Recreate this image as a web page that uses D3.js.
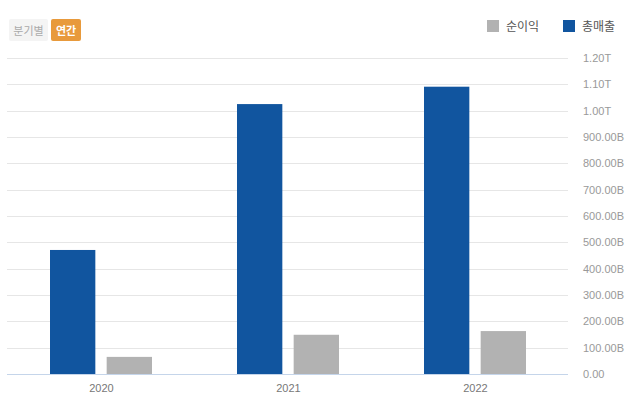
<!DOCTYPE html>
<html>
<head>
<meta charset="utf-8">
<script src="https://cdn.jsdelivr.net/npm/d3@7"></script>
<style>
body{margin:0;background:#fff;font-family:"Noto Sans CJK KR","Noto Sans",Arial,sans-serif;}
</style>
</head>
<body>
<div id="graph"></div>
<script>
var years = ["2020", "2021", "2022"];
var seriesNames = ["총매출", "순이익"];
var revenue = [471e9, 1025e9, 1091e9];
var netIncome = [65e9, 149e9, 163e9];
var yTicks = [0, 100e9, 200e9, 300e9, 400e9, 500e9, 600e9, 700e9, 800e9, 900e9, 1000e9, 1100e9, 1200e9];
var colors = {"총매출": "#11559f", "순이익": "#b2b2b2"};

var svg = d3.select('#graph').append("svg").attr("width", 644).attr("height", 411);

var x = d3.scaleBand().domain(years).range([7, 568]);
var inner = d3.scaleBand().domain(seriesNames).range([43, 145]).paddingInner(0.2);
var y = d3.scaleLinear().domain([0, 1200e9]).range([374, 58]);

function fmt(v){
  if (v === 0) return "0.00";
  if (v >= 1e12) return (v / 1e12).toFixed(2) + "T";
  return (v / 1e9).toFixed(2) + "B";
}

// grid
svg.append("g").selectAll("line")
  .data(yTicks.slice(1))
  .enter().append("line")
  .attr("x1", 7).attr("x2", 568)
  .attr("y1", function(d){ return Math.round(y(d)) + 0.5; })
  .attr("y2", function(d){ return Math.round(y(d)) + 0.5; })
  .attr("stroke", "#e6e6e6");

// y labels
svg.append("g").selectAll("text")
  .data(yTicks)
  .enter().append("text")
  .attr("x", 583)
  .attr("y", function(d){ return y(d) + 4; })
  .attr("font-size", 11)
  .attr("font-family", "Arial, 'Liberation Sans', sans-serif")
  .attr("fill", "#999")
  .text(fmt);

// bars
var rows = years.map(function(yr, i){ return {year: yr, vals: [{k: "총매출", v: revenue[i]}, {k: "순이익", v: netIncome[i]}]}; });
var groups = svg.append("g").selectAll("g")
  .data(rows).enter().append("g")
  .attr("transform", function(d){ return "translate(" + x(d.year) + ",0)"; });
groups.selectAll("rect")
  .data(function(d){ return d.vals; })
  .enter().append("rect")
  .attr("x", function(d){ return inner(d.k); })
  .attr("width", inner.bandwidth())
  .attr("y", function(d){ return y(d.v); })
  .attr("height", function(d){ return y(0) - y(d.v); })
  .attr("fill", function(d){ return colors[d.k]; });

// baseline
svg.append("line")
  .attr("x1", 7).attr("x2", 568)
  .attr("y1", 374.5).attr("y2", 374.5)
  .attr("stroke", "#c5d5ea");

// x labels
svg.append("g").selectAll("text")
  .data(years).enter().append("text")
  .attr("x", function(d){ return x(d) + x.bandwidth() / 2 + 1; })
  .attr("y", 392)
  .attr("text-anchor", "middle")
  .attr("font-size", 11)
  .attr("font-family", "Arial, 'Liberation Sans', sans-serif")
  .attr("fill", "#777")
  .text(function(d){ return d; });

// buttons
svg.append("rect").attr("x", 9).attr("y", 19).attr("width", 39).attr("height", 22).attr("rx", 2).attr("fill", "#f4f4f4");
svg.append("text").attr("x", 28.5).attr("y", 34.5).attr("text-anchor", "middle").attr("font-size", 11).attr("fill", "#aaa").text("분기별");
svg.append("rect").attr("x", 51).attr("y", 19).attr("width", 30).attr("height", 22).attr("rx", 2).attr("fill", "#e89a3c");
svg.append("text").attr("x", 66).attr("y", 34.5).attr("text-anchor", "middle").attr("font-size", 11).attr("font-weight", "bold").attr("fill", "#fff").text("연간");

// legend
var legendItems = [{k: "순이익", x: 487}, {k: "총매출", x: 563}];
var lg = svg.append("g").selectAll("g").data(legendItems).enter().append("g");
lg.append("rect").attr("x", function(d){ return d.x; }).attr("y", 20).attr("width", 12).attr("height", 12)
  .attr("fill", function(d){ return colors[d.k]; });
lg.append("text").attr("x", function(d){ return d.x + 19; }).attr("y", 31).attr("font-size", 12).attr("fill", "#555")
  .text(function(d){ return d.k; });
</script>
</body>
</html>
